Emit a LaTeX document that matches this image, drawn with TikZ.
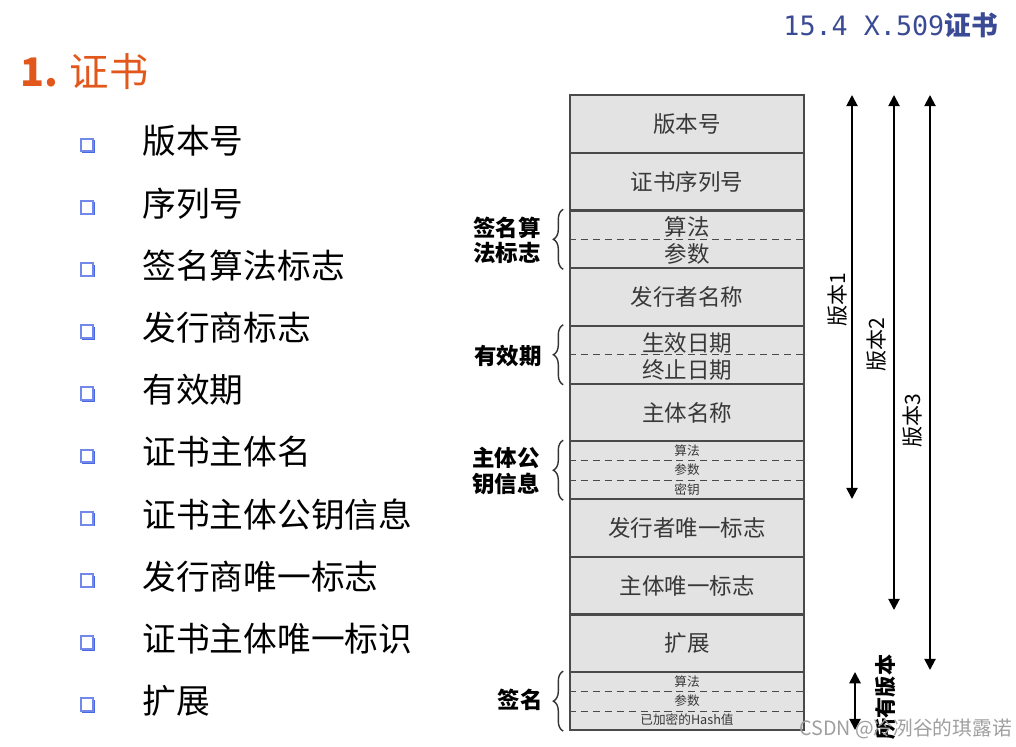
\documentclass[tikz,border=0pt]{standalone}
\usepackage{fontspec}
\setmainfont{Noto Sans CJK SC}
\newfontfamily\monohead{DejaVu Sans Mono}
\usepackage{tikz}
\usetikzlibrary{positioning, arrows.meta, decorations.pathreplacing, calc, shadows}
\definecolor{titleorange}{HTML}{E2581C}
\definecolor{headblue}{HTML}{3B4A94}
\definecolor{bluebox}{HTML}{3556E0}
\definecolor{rowfill}{HTML}{E3E3E3}
\definecolor{rowline}{HTML}{4A4A4A}
\definecolor{rowtext}{HTML}{383838}

\tikzset{
  rowbox/.style={draw=rowline, fill=rowfill, line width=1.6pt, minimum width=5.85cm,
    minimum height=1.443cm, inner sep=0pt, text=rowtext, font=\fontsize{16}{16}\selectfont},
  subtxt/.style={inner sep=0pt, text=rowtext, font=\fontsize{16}{16}\selectfont},
  tinytxt/.style={inner sep=0pt, text=rowtext, font=\fontsize{9}{9}\selectfont},
  splitline/.style={rowline, line width=0.9pt, dash pattern=on 5pt off 3.5pt},
  sidebrace/.style={decorate, decoration={brace, amplitude=7pt}, line width=1pt, black!80},
  sidelabel/.style={anchor=east, align=center, inner sep=0pt, font=\fontsize{16}{18}\selectfont\bfseries},
  verarrow/.style={{Triangle[length=8pt,width=8pt]}-{Triangle[length=8pt,width=8pt]}, line width=1.4pt},
  verlabel/.style={rotate=90, inner sep=0pt, font=\fontsize{15}{15}\selectfont},
  bulletbox/.style={draw=bluebox!70, fill=white, line width=1.3pt, minimum size=0.32cm, inner sep=0pt,
    drop shadow={shadow xshift=1.1pt, shadow yshift=-1.1pt, fill=bluebox, opacity=0.9}},
  itemtxt/.style={anchor=west, inner sep=0pt, font=\fontsize{24}{24}\selectfont},
}

\begin{document}
\begin{tikzpicture}[x=0.025cm, y=-0.025cm]
\useasboundingbox (0,0) rectangle (1016,747);

% Titles
\node[anchor=west, inner sep=0pt, text=titleorange, font=\fontsize{28}{28}\selectfont]
    (title) at (20,72) {{\bfseries 1.} 证书};
\node[anchor=east, inner sep=0pt, text=headblue]
    (head) at (998,25) {{\monohead\fontsize{19}{19}\selectfont 15.4 X.509}{\fontsize{19}{19}\selectfont\bfseries 证书}};

% Bullet list
\foreach \txt [count=\i] in {版本号, 序列号, 签名算法标志, 发行商标志, 有效期,
    证书主体名, 证书主体公钥信息, 发行商唯一标志, 证书主体唯一标识, 扩展}{
    \node[bulletbox] (box\i) at (87, {145+(\i-1)*62.2}) {};
    \node[itemtxt] (item\i) at (142, {141+(\i-1)*62.2}) {\txt};
}

% Certificate fields
\foreach \name/\txt [count=\i] in {r1/版本号, r2/证书序列号, r3/{}, r4/发行者名称, r5/{},
    r6/主体名称, r7/{}, r8/发行者唯一标志, r9/主体唯一标志, r10/扩展, r11/{}}{
    \node[rowbox] (\name) at (687, {95+(\i-0.5)*57.727}) {\txt};
}

% Split fields
\draw[splitline] (r3.west) -- (r3.east);
\node[subtxt] (r3a) at (687,227) {算法};
\node[subtxt] (r3b) at (687,254) {参数};

\draw[splitline] (r5.west) -- (r5.east);
\node[subtxt] (r5a) at (687,343) {生效日期};
\node[subtxt] (r5b) at (687,370) {终止日期};

\draw[splitline] ($(r7.north west)!1/3!(r7.south west)$) -- ($(r7.north east)!1/3!(r7.south east)$);
\draw[splitline] ($(r7.north west)!2/3!(r7.south west)$) -- ($(r7.north east)!2/3!(r7.south east)$);
\node[tinytxt] (r7a) at (687,451) {算法};
\node[tinytxt] (r7b) at (687,470) {参数};
\node[tinytxt] (r7c) at (687,490) {密钥};

\draw[splitline] ($(r11.north west)!1/3!(r11.south west)$) -- ($(r11.north east)!1/3!(r11.south east)$);
\draw[splitline] ($(r11.north west)!2/3!(r11.south west)$) -- ($(r11.north east)!2/3!(r11.south east)$);
\node[tinytxt] (r11a) at (687,682) {算法};
\node[tinytxt] (r11b) at (687,701) {参数};
\node[tinytxt] (r11c) at (687,720) {已加密的Hash值};

% Braces and group labels
\foreach \row in {r3, r5, r7, r11}{
    \draw[sidebrace] ([xshift=-4pt]\row.south west) -- ([xshift=-4pt]\row.north west);
}
\node[sidelabel] (lsig) at (541,240) {签名算\\法标志};
\node[sidelabel] (lval) at (542,356) {有效期};
\node[sidelabel] (lkey) at (540,471) {主体公\\钥信息};
\node[sidelabel] (lhash) at (543,700) {签名};

% Version ranges
\coordinate (v1top) at (852,95);  \coordinate (v1bot) at (852,499);
\coordinate (v2top) at (894,95);  \coordinate (v2bot) at (894,610);
\coordinate (v3top) at (930,95);  \coordinate (v3bot) at (930,670);
\coordinate (vatop) at (855,672); \coordinate (vabot) at (855,730);
\draw[verarrow] (v1top) -- (v1bot);
\draw[verarrow] (v2top) -- (v2bot);
\draw[verarrow] (v3top) -- (v3bot);
\draw[verarrow] (vatop) -- (vabot);
\node[verlabel] (lv1) at (837,300) {版本1};
\node[verlabel] (lv2) at (876,345) {版本2};
\node[verlabel] (lv3) at (912,421) {版本3};
\node[verlabel, font=\fontsize{15}{15}\selectfont\bfseries] (lva) at (886,697) {所有版本};

% Watermark
\node[anchor=east, inner sep=0pt, text=gray!75, font=\fontsize{14}{14}\selectfont]
    (mark) at (1012,729) {CSDN @冷冽谷的琪露诺};

\end{tikzpicture}
\end{document}
